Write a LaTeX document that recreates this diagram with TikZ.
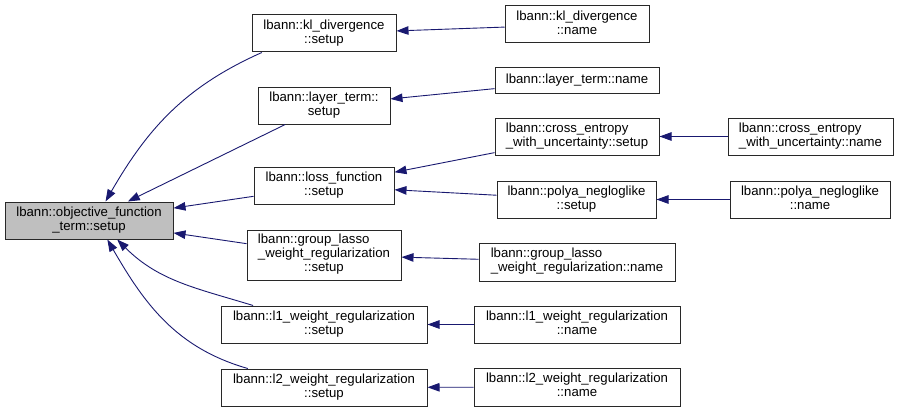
\documentclass[tikz,border=0pt]{standalone}
\usepackage{fontspec}
\setmainfont{Liberation Sans}
\usepackage{tikz}
\usetikzlibrary{arrows.meta, positioning}
\definecolor{callblue}{RGB}{25, 25, 112}
\definecolor{boxedge}{RGB}{40, 40, 40}
\definecolor{rootgray}{RGB}{191, 191, 191}
% left-justified lines, last line centred
\newcommand{\fnlabel}[2]{\begin{tabular}{@{}l@{}}#1\\\multicolumn{1}{@{}c@{}}{#2}\end{tabular}}

\begin{document}
\begin{tikzpicture}[
  x=1pt, y=-1pt,
  fnbox/.style={rectangle, draw=boxedge, fill=white, line width=1pt,
              inner sep=0pt, minimum height=37pt, align=center,
              font=\fontsize{13.2}{14}\selectfont},
  rootbox/.style={fnbox, fill=rootgray},
  arrow/.style={{Triangle[length=12pt, width=8.5pt]}-, line width=0.9pt, color=callblue},
]
  \useasboundingbox (0,0) rectangle (899,412);

  % root
  \node[rootbox, minimum width=168pt] (obj) at (89,220.5) {\fnlabel{lbann::objective\_function}{\_term::setup}};

  % callers of the root
  \node[fnbox, minimum width=144pt] (klS) at (324,33.5) {\fnlabel{lbann::kl\_divergence}{::setup}};
  \node[fnbox, minimum width=132pt] (ltS) at (324,105.5) {\fnlabel{lbann::layer\_term::}{setup}};
  \node[fnbox, minimum width=140pt] (lfS) at (324,186) {\fnlabel{lbann::loss\_function}{::setup}};
  \node[fnbox, minimum width=154pt, minimum height=50pt] (glS) at (324,255) {\fnlabel{lbann::group\_lasso\\\_weight\_regularization}{::setup}};
  \node[fnbox, minimum width=206pt] (l1S) at (324,324.5) {\fnlabel{lbann::l1\_weight\_regularization}{::setup}};
  \node[fnbox, minimum width=206pt] (l2S) at (324,387.5) {\fnlabel{lbann::l2\_weight\_regularization}{::setup}};

  % next column
  \node[fnbox, minimum width=144pt] (klN) at (577,24.5) {\fnlabel{lbann::kl\_divergence}{::name}};
  \node[fnbox, minimum width=164pt, minimum height=25pt] (ltN) at (577,80.5) {lbann::layer\_term::name};
  \node[fnbox, minimum width=164pt] (ceS) at (577,136.5) {\fnlabel{lbann::cross\_entropy}{\_with\_uncertainty::setup}};
  \node[fnbox, minimum width=159pt] (pnS) at (576.5,199.5) {\fnlabel{lbann::polya\_negloglike}{::setup}};
  \node[fnbox, minimum width=196pt, minimum height=38pt] (glN) at (577,262) {\fnlabel{lbann::group\_lasso}{\_weight\_regularization::name}};
  \node[fnbox, minimum width=206pt] (l1N) at (577,324.5) {\fnlabel{lbann::l1\_weight\_regularization}{::name}};
  \node[fnbox, minimum width=206pt, minimum height=38pt] (l2N) at (577,387) {\fnlabel{lbann::l2\_weight\_regularization}{::name}};

  % last column
  \node[fnbox, minimum width=165pt] (ceN) at (810.5,136.5) {\fnlabel{lbann::cross\_entropy}{\_with\_uncertainty::name}};
  \node[fnbox, minimum width=160pt] (pnN) at (810,199.5) {\fnlabel{lbann::polya\_negloglike}{::name}};

  % calls into the root
  \draw[arrow] (obj.49) to[out=60, in=204] (klS.197);
  \draw[arrow] (obj) -- (ltS);
  \draw[arrow] (obj) -- (lfS);
  \draw[arrow] (obj) -- (glS);
  \draw[arrow] (obj.326) to[out=-45, in=163] (l1S.165);
  \draw[arrow] (obj.314) to[out=-60, in=164] (l2S.166);

  % calls further out
  \draw[arrow] (klS) -- (klN);
  \draw[arrow] (ltS) -- (ltN);
  \draw[arrow] (lfS) -- (ceS);
  \draw[arrow] (lfS) -- (pnS);
  \draw[arrow] (glS) -- (glN);
  \draw[arrow] (l1S) -- (l1N);
  \draw[arrow] (l2S) -- (l2N);
  \draw[arrow] (ceS) -- (ceN);
  \draw[arrow] (pnS) -- (pnN);
\end{tikzpicture}
\end{document}
